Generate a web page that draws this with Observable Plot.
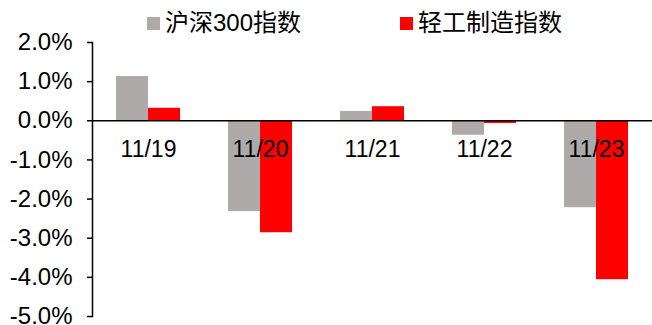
<!DOCTYPE html>
<html>
<head>
<meta charset="utf-8">
<script src="https://cdn.jsdelivr.net/npm/d3@7"></script>
<script src="https://cdn.jsdelivr.net/npm/@observablehq/plot@0.6"></script>
<style>
  html, body { margin: 0; padding: 0; background: #fff; overflow: hidden; }
  #wrap { position: relative; width: 652px; height: 325px; }
  #legend { position: relative; height: 32px; font-family: "Liberation Sans", "Noto Sans CJK SC", sans-serif; font-size: 24px; color: #000; }
  .item { position: absolute; top: 11px; height: 24px; line-height: 24px; white-space: nowrap; }
  .sw { position: absolute; width: 13px; height: 13px; top: 6px; left: 0; }
  .lab { position: absolute; left: 18px; top: 0; }
  #chart svg { display: block; }
</style>
</head>
<body>
<div id="wrap">
  <div id="legend"></div>
  <div id="chart"></div>
</div>
<script>
// Daily returns (%) of the CSI 300 and the light-industry index
const dates = ["11/19", "11/20", "11/21", "11/22", "11/23"];
const seriesNames = ["沪深300指数", "轻工制造指数"];
const hs300 = [1.13, -2.32, 0.24, -0.37, -2.22];
const lightIndustry = [0.32, -2.86, 0.36, -0.07, -4.06];
const yTicks = [2, 1, 0, -1, -2, -3, -4, -5];
const colors = ["#AEAAAA", "#FF0000"];

const rows = dates.flatMap((d, i) => [
  {date: d, series: seriesNames[0], value: hs300[i]},
  {date: d, series: seriesNames[1], value: lightIndustry[i]}
]);

// legend
const legendX = [147, 400];
const legend = d3.select("#legend");
seriesNames.forEach((name, i) => {
  const item = legend.append("div").attr("class", "item").style("left", legendX[i] + "px");
  item.append("div").attr("class", "sw").style("background", colors[i]);
  item.append("div").attr("class", "lab").text(name);
});

const W = 652, H = 293, ML = 92, MR = 0, MT = 10, MB = 9;
const facetStep = (W - ML - MR) / dates.length;
const pxPerUnit = (H - MT - MB) / (yTicks[0] - yTicks[yTicks.length - 1]);
const catTick = 5 / pxPerUnit;

const chart = Plot.plot({
  width: W,
  height: H,
  marginLeft: ML,
  marginRight: MR,
  marginTop: MT,
  marginBottom: MB,
  style: {fontFamily: "'Liberation Sans', Arial, sans-serif", fontSize: "24px", color: "#000", background: "#fff", overflow: "visible"},
  fx: {domain: dates, padding: 0, axis: null},
  x: {domain: seriesNames, paddingInner: 0, paddingOuter: 0.75, axis: null},
  y: {domain: [yTicks[yTicks.length - 1], yTicks[0]], axis: null},
  color: {domain: seriesNames, range: colors},
  marks: [
    Plot.barY(rows, {fx: "date", x: "series", y: "value", fill: "series"}),
    Plot.ruleY([0], {stroke: "#000", strokeWidth: 1.5}),
    // category separators on the zero line
    Plot.ruleX(dates.slice(0, -1), {fx: d => d, y1: 0, y2: catTick, dx: facetStep / 2, stroke: "#000", strokeWidth: 1.5}),
    Plot.text(dates, {fx: d => d, text: d => d, y: 0, dy: 29, fontSize: 23, fill: "#000"}),
    Plot.frame({anchor: "left", facetAnchor: "left", stroke: "#000", strokeWidth: 1.5}),
    Plot.axisY({ticks: yTicks, tickSize: 5, tickPadding: 15, tickFormat: d => d.toFixed(1) + "%", strokeWidth: 1.5, fontSize: 24, label: null})
  ]
});
document.getElementById("chart").appendChild(chart);
</script>
</body>
</html>
